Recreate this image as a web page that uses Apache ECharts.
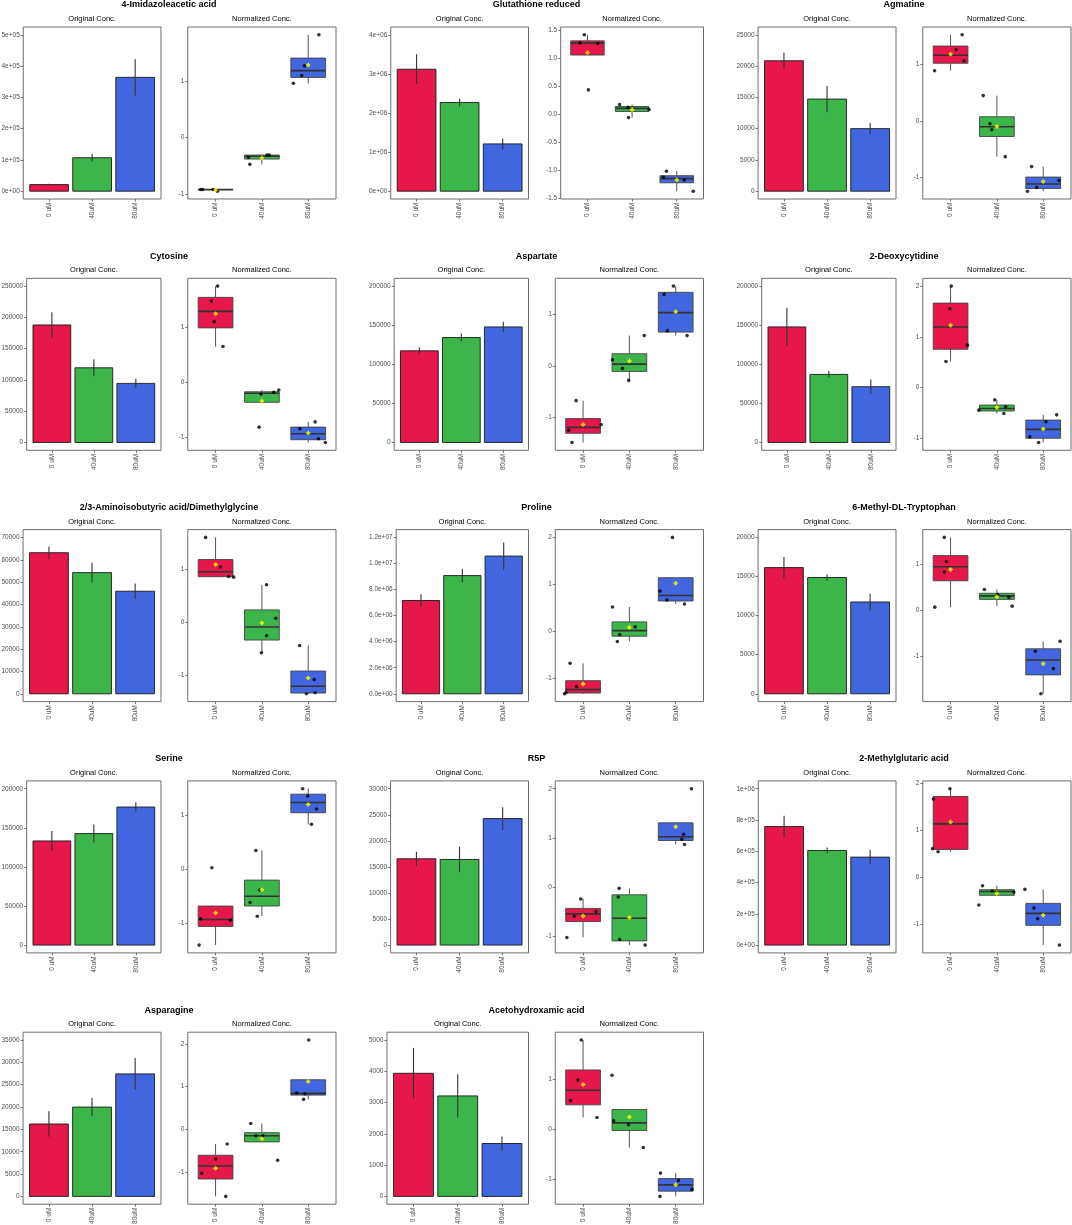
<!DOCTYPE html>
<html>
<head>
<meta charset="utf-8">
<title>Metabolites - original and normalized concentration</title>
<script src="https://cdn.jsdelivr.net/npm/echarts@6/dist/echarts.min.js"></script>
<style>
  html, body { margin: 0; padding: 0; background: #fff; }
  #chart { width: 1072px; height: 1225px; }
</style>
</head>
<body>
<div id="chart"></div>
<script>
// ---- data ----
var metabolites = [
  "4-Imidazoleacetic acid", "Glutathione reduced", "Agmatine",
  "Cytosine", "Aspartate", "2-Deoxycytidine",
  "2/3-Aminoisobutyric acid/Dimethylglycine", "Proline", "6-Methyl-DL-Tryptophan",
  "Serine", "R5P", "2-Methylglutaric acid",
  "Asparagine", "Acetohydroxamic acid"
];
var groups = ["0 uM", "40uM", "80uM"];

// Original Conc. : bar height and error bar half length
var origMean = [
  [21000, 107000, 364000], [3120000, 2270000, 1210000], [20850, 14730, 10000],
  [187900, 119400, 94500], [117200, 134200, 147800], [147800, 87050, 71340],
  [63150, 54230, 45910], [7160000, 9070000, 10570000], [16140, 14870, 11740],
  [133200, 142600, 176600], [16560, 16430, 24270], [757900, 605000, 562600],
  [16200, 19990, 27420], [3936, 3213, 1691]
];
var origErr = [
  [2500, 12000, 58000], [380000, 95000, 135000], [1280, 2130, 900],
  [20400, 13500, 7200], [4700, 5100, 6600], [24400, 4250, 9300],
  [2800, 4400, 3500], [470000, 520000, 1045000], [1360, 380, 1040],
  [12800, 11500, 6200], [1370, 2450, 2170], [69000, 19000, 46700],
  [2860, 2040, 3570], [810, 690, 220]
];
var origTicks = [
  [0, 1e5, 2e5, 3e5, 4e5, 5e5], [0, 1e6, 2e6, 3e6, 4e6], [0, 5000, 10000, 15000, 20000, 25000],
  [0, 50000, 100000, 150000, 200000, 250000], [0, 50000, 100000, 150000, 200000], [0, 50000, 100000, 150000, 200000],
  [0, 10000, 20000, 30000, 40000, 50000, 60000, 70000], [0, 2e6, 4e6, 6e6, 8e6, 1e7, 1.2e7], [0, 5000, 10000, 15000, 20000],
  [0, 50000, 100000, 150000, 200000], [0, 5000, 10000, 15000, 20000, 25000, 30000], [0, 2e5, 4e5, 6e5, 8e5, 1e6],
  [0, 5000, 10000, 15000, 20000, 25000, 30000, 35000], [0, 1000, 2000, 3000, 4000, 5000]
];
var origTickLabels = [
  ["0e+00", "1e+05", "2e+05", "3e+05", "4e+05", "5e+05"],
  ["0e+00", "1e+06", "2e+06", "3e+06", "4e+06"],
  ["0", "5000", "10000", "15000", "20000", "25000"],
  ["0", "50000", "100000", "150000", "200000", "250000"],
  ["0", "50000", "100000", "150000", "200000"],
  ["0", "50000", "100000", "150000", "200000"],
  ["0", "10000", "20000", "30000", "40000", "50000", "60000", "70000"],
  ["0.0e+00", "2.0e+06", "4.0e+06", "6.0e+06", "8.0e+06", "1.0e+07", "1.2e+07"],
  ["0", "5000", "10000", "15000", "20000"],
  ["0", "50000", "100000", "150000", "200000"],
  ["0", "5000", "10000", "15000", "20000", "25000", "30000"],
  ["0e+00", "2e+05", "4e+05", "6e+05", "8e+05", "1e+06"],
  ["0", "5000", "10000", "15000", "20000", "25000", "30000", "35000"],
  ["0", "1000", "2000", "3000", "4000", "5000"]
];

// Normalized Conc. : the four samples of each group, and their horizontal jitter
var normValues = [
  [[-0.92, -0.92, -0.92, -0.95], [-0.35, -0.475, -0.31, -0.31], [0.96, 1.10, 1.27, 1.82]],
  [[1.414, 1.27, 1.26, 0.43], [0.17, 0.12, -0.065, 0.08], [-1.024, -1.13, -1.18, -1.38]],
  [[0.883, 1.251, 1.515, 1.058], [0.444, -0.053, -0.158, -0.632], [-1.24, -0.807, -1.175, -1.053]],
  [[1.742, 1.471, 1.099, 0.649], [-0.21, -0.81, -0.18, -0.138], [-0.84, -0.715, -1.02, -1.087]],
  [[-0.673, -1.244, -1.481, -1.135], [0.115, -0.051, -0.282, 0.583], [1.378, 0.673, 1.538, 0.583]],
  [[2.009, 1.56, 0.839, 0.516], [-0.449, -0.245, -0.516, -0.383], [-0.978, -1.09, -0.681, -0.542]],
  [[1.594, 1.0375, 0.856, 0.844], [0.70, 0.069, -0.2625, -0.581], [-0.444, -1.0875, -1.356, -1.3375]],
  [[-1.324, -1.303, -0.676, -1.169], [0.521, -0.211, -0.063, 0.099], [2.0, 0.859, 0.669, 0.5845]],
  [[1.581, 1.054, 0.83, 0.065], [0.448, 0.339, 0.282, 0.087], [-0.895, -1.819, -1.271, -0.679]],
  [[0.025, -0.923, -0.948, -1.409], [0.345, -0.388, -0.622, -0.874], [1.489, 1.354, 1.114, 0.831]],
  [[-0.243, -0.595, -0.5, -1.027], [-0.027, -0.203, -1.068, -1.182], [2.0, 1.074, 0.973, 0.865]],
  [[1.879, 1.66, 0.603, 0.539], [-0.184, -0.298, -0.596, -0.319], [-0.262, -0.66, -0.887, -1.447]],
  [[-0.699, -1.033, -0.35, -1.577], [0.132, -0.155, -0.155, -0.73], [2.09, 0.847, 0.831, 0.699]],
  [[1.787, 0.987, 0.573, 0.233], [1.08, 0.167, 0.087, -0.367], [-0.88, -1.027, -1.207, -1.347]]
];
var normJitter = [
  [[-0.32, -0.28, -0.05, 0.04], [-0.29, -0.26, 0.11, 0.16], [-0.32, -0.14, -0.08, 0.23]],
  [[-0.07, -0.165, 0.23, 0.02], [-0.28, -0.09, -0.08, 0.38], [-0.23, -0.3, 0.17, 0.37]],
  [[-0.345, 0.12, 0.25, 0.29], [-0.295, -0.15, -0.11, 0.18], [-0.34, -0.25, -0.14, 0.34]],
  [[0.045, -0.09, -0.03, 0.16], [-0.02, -0.06, 0.255, 0.365], [-0.18, 0.15, 0.22, 0.37]],
  [[-0.15, -0.31, -0.24, 0.39], [-0.365, -0.15, -0.015, 0.32], [-0.25, -0.18, -0.05, 0.245]],
  [[0.015, -0.015, 0.365, -0.1], [-0.39, -0.045, 0.15, 0.19], [-0.29, -0.1, 0.06, 0.29]],
  [[-0.215, 0.105, 0.28, 0.39], [0.1, 0.3, 0.1, -0.01], [-0.185, 0.13, -0.04, 0.15]],
  [[-0.4, -0.37, -0.28, -0.14], [-0.365, -0.26, -0.21, 0.125], [-0.07, -0.34, -0.19, 0.19]],
  [[-0.135, -0.09, -0.135, -0.34], [-0.27, 0.015, 0.26, 0.33], [-0.17, -0.05, 0.22, 0.365]],
  [[-0.08, -0.32, 0.32, -0.355], [-0.13, -0.045, -0.255, -0.1], [-0.12, -0.01, 0.18, 0.07]],
  [[-0.05, -0.19, 0.28, -0.35], [-0.22, -0.24, -0.21, 0.34], [0.34, 0.17, 0.13, 0.19]],
  [[-0.015, -0.37, -0.39, -0.27], [-0.31, -0.1, -0.39, 0.365], [-0.395, -0.2, -0.12, 0.35]],
  [[0, -0.3, 0.25, 0.22], [-0.24, -0.13, 0.02, 0.34], [0.01, -0.25, -0.07, -0.1]],
  [[-0.04, -0.11, -0.27, 0.3], [-0.375, -0.34, -0.02, 0.3], [-0.33, 0.06, 0.35, -0.34]]
];
var normTicks = [
  [-1, 0, 1], [-1.5, -1, -0.5, 0, 0.5, 1, 1.5], [-1, 0, 1],
  [-1, 0, 1], [-1, 0, 1], [-1, 0, 1, 2],
  [-1, 0, 1], [-1, 0, 1, 2], [-2, -1, 0, 1],
  [-1, 0, 1], [-1, 0, 1, 2], [-1, 0, 1, 2],
  [-1, 0, 1, 2], [-1, 0, 1]
];
var normTickLabels = [
  ["-1", "0", "1"], ["-1.5", "-1.0", "-0.5", "0.0", "0.5", "1.0", "1.5"], ["-1", "0", "1"],
  ["-1", "0", "1"], ["-1", "0", "1"], ["-1", "0", "1", "2"],
  ["-1", "0", "1"], ["-1", "0", "1", "2"], ["-2", "-1", "0", "1"],
  ["-1", "0", "1"], ["-1", "0", "1", "2"], ["-1", "0", "1", "2"],
  ["-1", "0", "1", "2"], ["-1", "0", "1"]
];

// ---- look ----
var FONT = '"Liberation Sans", Arial, Helvetica, sans-serif';
var COLORS = ["#E5174B", "#3CB54A", "#4166DD"];
var COL_STEP = 367.5, ROW_STEP = 251.3;
var TICK_FS = 6.5;
var AXIS_GREY = "#4d4d4d";

var ctx = document.createElement("canvas").getContext("2d");
ctx.font = TICK_FS + "px " + FONT;
function labelWidth(labels) {
  return Math.max.apply(null, labels.map(function (s) { return ctx.measureText(s).width; }));
}

// ggplot style box statistics (type 7 quantiles, whiskers to last point within 1.5 IQR)
function quantile(s, p) {
  var h = (s.length - 1) * p, lo = Math.floor(h);
  return lo + 1 < s.length ? s[lo] + (h - lo) * (s[lo + 1] - s[lo]) : s[lo];
}
function boxStats(vals) {
  var s = vals.slice().sort(function (a, b) { return a - b; });
  var q1 = quantile(s, 0.25), med = quantile(s, 0.5), q3 = quantile(s, 0.75);
  var iqr = q3 - q1;
  var inside = s.filter(function (v) { return v >= q1 - 1.5 * iqr && v <= q3 + 1.5 * iqr; });
  return [Math.min(inside[0], q1), q1, med, q3, Math.max(inside[inside.length - 1], q3)];
}
function mean(vals) {
  return vals.reduce(function (a, b) { return a + b; }, 0) / vals.length;
}

function renderBar(params, api) {
  var x = api.value(0), y = api.value(1);
  var a = api.coord([x - 0.45, y]), b = api.coord([x + 0.45, 0]);
  return {
    type: "rect",
    shape: { x: a[0], y: a[1], width: b[0] - a[0], height: b[1] - a[1] },
    style: { fill: COLORS[x - 1], stroke: "#1a1a1a", lineWidth: 0.9 }
  };
}
function renderErr(params, api) {
  var x = api.value(0), m = api.value(1), e = api.value(2);
  var a = api.coord([x, m - e]), b = api.coord([x, m + e]);
  return {
    type: "line",
    shape: { x1: a[0], y1: a[1], x2: b[0], y2: b[1] },
    style: { stroke: "#333", lineWidth: 1.1 }
  };
}
function renderBox(params, api) {
  var x = api.value(0);
  var lo = api.coord([x, api.value(1)]), q1 = api.coord([x - 0.375, api.value(2)]);
  var med = api.coord([x, api.value(3)]), q3 = api.coord([x + 0.375, api.value(4)]);
  var hi = api.coord([x, api.value(5)]);
  return {
    type: "group",
    children: [
      { type: "line", shape: { x1: hi[0], y1: hi[1], x2: hi[0], y2: q3[1] }, style: { stroke: "#555", lineWidth: 1 } },
      { type: "line", shape: { x1: lo[0], y1: lo[1], x2: lo[0], y2: q1[1] }, style: { stroke: "#555", lineWidth: 1 } },
      {
        type: "rect",
        shape: { x: q1[0], y: q3[1], width: q3[0] - q1[0], height: q1[1] - q3[1] },
        style: { fill: COLORS[x - 1], stroke: "#444", lineWidth: 0.9 }
      },
      { type: "line", shape: { x1: q1[0], y1: med[1], x2: q3[0], y2: med[1] }, style: { stroke: "#333", lineWidth: 1.6 } }
    ]
  };
}

var grids = [], xAxes = [], yAxes = [], series = [], texts = [];

function addAxes(gi, yMin, yMax, ticks, labels) {
  xAxes.push({
    type: "value", gridIndex: gi, min: 0.4, max: 3.6,
    axisLine: { show: false, onZero: false }, splitLine: { show: false },
    axisTick: { show: true, customValues: [1, 2, 3], length: 2.5, lineStyle: { color: "#555", width: 0.8 } },
    axisLabel: {
      customValues: [1, 2, 3], rotate: 90, margin: 3.5,
      fontSize: TICK_FS, color: AXIS_GREY, fontFamily: FONT,
      formatter: function (v) { return groups[Math.round(v) - 1]; }
    }
  });
  yAxes.push({
    type: "value", gridIndex: gi, min: yMin, max: yMax,
    axisLine: { show: false, onZero: false }, splitLine: { show: false },
    axisTick: { show: true, customValues: ticks, length: 2.5, lineStyle: { color: "#555", width: 0.8 } },
    axisLabel: {
      customValues: ticks, margin: 3.5,
      fontSize: TICK_FS, color: AXIS_GREY, fontFamily: FONT,
      formatter: function (v) {
        var k = ticks.findIndex(function (t) { return Math.abs(t - v) < 1e-9 * (yMax - yMin); });
        return k < 0 ? "" : labels[k];
      }
    }
  });
}

function addGrid(left, right, top) {
  grids.push({
    left: left, top: top, width: right - left, height: 172,
    show: true, borderColor: "#6e6e6e", borderWidth: 1, backgroundColor: "#fff",
    containLabel: false, outerBoundsMode: "none"
  });
  return grids.length - 1;
}

function addText(text, x, y, size, bold) {
  texts.push({
    type: "text", x: x, y: y, silent: true,
    style: {
      text: text, fill: "#000", fontSize: size, fontWeight: bold ? "bold" : "normal",
      fontFamily: FONT, align: "center", verticalAlign: "middle"
    }
  });
}

metabolites.forEach(function (name, i) {
  var base = (i % 3) * COL_STEP, rowTop = Math.floor(i / 3) * ROW_STEP;
  var plotTop = rowTop + 27;

  addText(name, base + 169, rowTop + 5, 9, true);

  // Original Conc.
  var oLeft = base + 1 + labelWidth(origTickLabels[i]) + 4, oRight = base + 161;
  var go = addGrid(oLeft, oRight, plotTop);
  var T = origTicks[i][origTicks[i].length - 1];
  addAxes(go, -0.05 * T, 1.05 * T, origTicks[i], origTickLabels[i]);
  addText("Original Conc.", (oLeft + oRight) / 2, rowTop + 19, 7.5, false);
  series.push({
    type: "custom", xAxisIndex: go, yAxisIndex: go, silent: true, z: 2,
    renderItem: renderBar,
    data: groups.map(function (g, k) { return [k + 1, origMean[i][k]]; })
  });
  series.push({
    type: "custom", xAxisIndex: go, yAxisIndex: go, silent: true, z: 3,
    renderItem: renderErr,
    data: groups.map(function (g, k) { return [k + 1, origMean[i][k], origErr[i][k]]; })
  });

  // Normalized Conc.
  var nLeft = base + 178 + labelWidth(normTickLabels[i]) + 4, nRight = base + 336;
  var gn = addGrid(nLeft, nRight, plotTop);
  var all = [].concat.apply([], normValues[i]);
  var lo = Math.min.apply(null, all), hi = Math.max.apply(null, all), pad = 0.05 * (hi - lo);
  addAxes(gn, lo - pad, hi + pad, normTicks[i], normTickLabels[i]);
  addText("Normalized Conc.", (nLeft + nRight) / 2, rowTop + 19, 7.5, false);
  series.push({
    type: "custom", xAxisIndex: gn, yAxisIndex: gn, silent: true, z: 2,
    renderItem: renderBox,
    data: groups.map(function (g, k) { return [k + 1].concat(boxStats(normValues[i][k])); })
  });
  var pts = [];
  groups.forEach(function (g, k) {
    normValues[i][k].forEach(function (v, j) { pts.push([k + 1 + normJitter[i][k][j], v]); });
  });
  series.push({
    type: "scatter", xAxisIndex: gn, yAxisIndex: gn, silent: true, z: 3,
    symbol: "circle", symbolSize: 3.6, itemStyle: { color: "#000" },
    data: pts
  });
  series.push({
    type: "scatter", xAxisIndex: gn, yAxisIndex: gn, silent: true, z: 4,
    symbol: "diamond", symbolSize: 5, itemStyle: { color: "#FFFF00" },
    data: groups.map(function (g, k) { return [k + 1, mean(normValues[i][k])]; })
  });
});

var myChart = echarts.init(document.getElementById("chart"));
myChart.setOption({
  animation: false,
  backgroundColor: "#fff",
  grid: grids,
  xAxis: xAxes,
  yAxis: yAxes,
  series: series,
  graphic: { elements: texts }
});
window.addEventListener("resize", function () {
  myChart.resize();
});
</script>
</body>
</html>
